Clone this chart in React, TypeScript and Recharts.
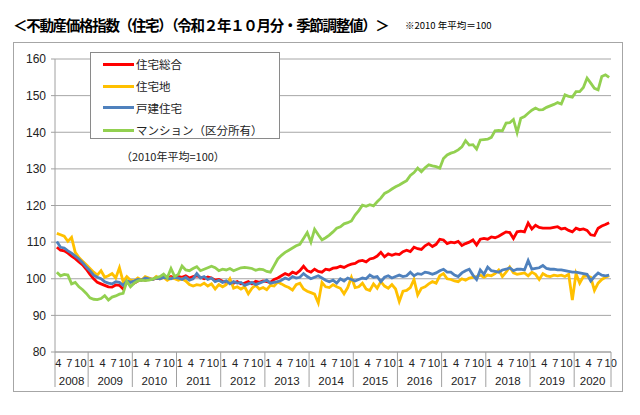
import React from 'react';
import { LineChart, Line, XAxis, YAxis, CartesianGrid, Legend } from 'recharts';

// Months: April 2008 .. October 2020
const years = [2008, 2009, 2010, 2011, 2012, 2013, 2014, 2015, 2016, 2017, 2018, 2019, 2020];
const firstMonth = 4;
const lastMonth = 10;
const monthTickLabels = [1, 4, 7, 10];

// 住宅総合
const sogo = [
  108.6, 107.8, 107.6, 107.0, 106.2, 105.5, 104.6, 103.8, 102.6,
  101.2, 100.0, 99.0, 98.6, 98.2, 97.8, 97.7, 98.3, 98.2, 97.2, 99.0, 99.4,
  98.8, 99.4, 99.8, 99.6, 100.0, 99.8, 100.2, 100.0, 100.4, 100.2, 100.6, 100.2,
  100.6, 100.4, 100.8, 100.2, 100.6, 100.8, 100.4, 100.0, 100.5, 100.2, 99.6, 99.8,
  99.3, 99.0, 99.4, 98.8, 99.2, 98.6, 98.8, 99.2, 98.6, 99.3, 99.0, 99.4,
  99.2, 99.0, 99.8, 100.2, 100.8, 101.4, 101.0, 101.8, 101.4, 102.2, 103.4, 102.2,
  101.8, 102.6, 102.0, 101.8, 102.6, 102.4, 102.9, 103.0, 103.4, 103.1, 103.6, 104.0,
  104.2, 104.8, 105.0, 104.6, 105.4, 105.6, 106.2, 107.2, 106.0, 106.8, 106.4, 106.8,
  106.6, 107.4, 107.8, 107.4, 108.6, 108.2, 108.0, 109.0, 109.6, 108.8, 109.4, 110.8,
  110.6, 109.6, 110.0, 109.8, 110.2, 109.1, 109.6, 110.0, 110.6, 109.2, 110.8, 111.0,
  110.8, 111.4, 111.2, 111.6, 112.2, 112.8, 112.6, 111.0, 112.8, 113.0, 112.8, 115.2,
  113.6, 114.6, 114.0, 113.8, 113.8, 113.8, 114.0, 114.2, 113.6, 113.8, 113.2, 112.8,
  113.8, 113.4, 113.6, 113.2, 112.0, 111.8, 113.8, 114.4, 114.8, 115.3,
];

// 住宅地
const takuchi = [
  112.4, 112.0, 111.6, 110.2, 111.3, 107.2, 105.8, 104.8, 103.8,
  102.8, 101.8, 101.0, 102.2, 100.4, 100.8, 101.4, 100.2, 103.0, 99.2, 100.6, 99.6,
  99.4, 100.2, 99.6, 100.6, 100.2, 99.8, 100.6, 100.0, 100.4, 99.6, 100.2, 100.0,
  99.6, 100.0, 99.4, 98.4, 98.0, 98.4, 98.2, 98.8, 98.0, 98.6, 97.2, 98.4,
  97.8, 98.4, 100.0, 97.4, 97.8, 97.2, 97.8, 95.9, 97.4, 98.2, 97.2, 97.6,
  97.0, 98.2, 98.0, 99.1, 98.6, 98.0, 97.6, 96.9, 98.4, 98.8, 97.2, 96.6,
  96.2, 95.8, 93.4, 99.0, 97.8, 97.6, 98.4, 97.8, 97.4, 95.9, 97.6, 100.4,
  97.6, 97.8, 98.8, 97.2, 96.8, 98.6, 97.4, 99.2, 98.0, 97.4, 98.4, 97.2,
  93.8, 96.6, 96.8, 97.6, 99.8, 95.6, 97.4, 97.8, 98.6, 99.2, 98.8, 100.8,
  101.4, 100.0, 99.8, 99.4, 99.2, 100.0, 99.6, 100.2, 100.4, 100.6, 101.0, 100.4,
  101.0, 100.8, 101.4, 102.4, 100.6, 101.8, 103.2, 101.6, 101.2, 101.4, 101.6, 100.8,
  101.8, 101.2, 99.8, 101.4, 100.8, 100.6, 101.0, 100.8, 101.0, 100.6, 101.2, 94.2,
  101.4, 98.8, 100.6, 100.8, 100.4, 96.8, 98.8, 99.8, 100.4, 100.8,
];

// 戸建住宅
const kodate = [
  110.2, 108.6, 108.4, 107.6, 107.0, 106.2, 105.4, 104.4, 103.2,
  102.2, 101.0, 100.4, 100.0, 99.2, 98.8, 98.6, 99.2, 99.0, 98.2, 99.4, 99.0,
  99.4, 99.8, 99.6, 100.2, 100.0, 99.8, 100.2, 100.0, 100.4, 100.2, 100.0, 100.4,
  100.2, 99.8, 100.4, 99.6, 100.0, 101.4, 100.2, 100.6, 99.8, 100.2, 99.2, 99.6,
  99.0, 99.4, 98.6, 99.2, 98.8, 99.0, 98.2, 98.6, 99.0, 98.4, 98.8, 99.2,
  99.6, 98.8, 99.0, 99.2, 99.6, 100.2, 99.8, 100.6, 100.2, 100.4, 101.4, 100.6,
  100.0, 100.4, 100.8, 100.2, 99.6, 99.2, 99.6, 98.8, 100.0, 99.4, 100.2, 99.8,
  99.4, 99.8, 100.2, 100.0, 101.0, 100.4, 100.6, 99.2, 100.4, 100.8, 100.2, 100.6,
  101.0, 100.6, 100.8, 101.8, 100.8, 101.4, 101.2, 101.8, 101.6, 101.2, 101.6, 102.2,
  102.6, 101.8, 101.8, 101.0, 100.6, 101.6, 102.2, 102.6, 101.0, 99.8, 102.4, 101.2,
  103.2, 102.2, 102.0, 101.8, 102.4, 102.6, 103.0, 102.2, 102.6, 102.6, 102.4, 105.0,
  102.6, 102.8, 103.0, 103.6, 102.8, 102.6, 102.6, 102.4, 102.4, 102.2, 102.0, 101.8,
  101.8, 101.6, 101.4, 101.2, 99.4, 100.6, 101.6, 101.0, 100.8, 101.0,
];

// マンション（区分所有）
const mansion = [
  101.8, 100.8, 101.2, 101.0, 98.6, 99.0, 97.8, 97.0, 96.0,
  94.8, 94.4, 94.3, 94.6, 95.4, 94.2, 95.0, 95.3, 95.8, 96.0, 99.3, 97.8,
  98.8, 99.4, 99.6, 99.5, 99.6, 99.9, 100.3, 100.6, 101.3, 100.3, 102.8, 100.6,
  101.2, 103.5, 102.4, 102.2, 102.8, 103.3, 102.2, 102.6, 103.0, 103.4, 103.0, 102.2,
  102.6, 102.4, 102.8, 102.2, 102.6, 103.0, 103.1, 103.0, 102.8, 102.3, 102.6, 102.5,
  102.0, 101.8, 103.6, 105.4, 106.4, 107.2, 107.8, 108.4, 109.0, 109.4, 111.0, 112.6,
  110.0, 113.5, 112.0, 110.6, 111.2, 111.9, 112.8, 113.8, 114.2, 115.0, 115.3, 115.8,
  117.4, 118.6, 120.1, 119.8, 120.2, 119.9, 121.0, 122.0, 123.3, 123.8, 124.5, 125.1,
  125.6, 126.2, 126.8, 128.2, 129.0, 130.2, 129.2, 130.3, 131.1, 130.8, 130.6, 130.2,
  132.8, 133.8, 134.3, 134.6, 135.2, 136.0, 137.7, 136.5, 136.6, 135.4, 137.9, 138.0,
  138.1, 138.6, 140.4, 140.5, 140.4, 142.5, 142.6, 143.5, 139.9, 143.8, 144.3, 145.2,
  146.0, 146.6, 146.1, 146.2, 146.8, 147.2, 147.6, 148.1, 147.7, 150.2, 149.8, 149.6,
  151.1, 151.1, 152.2, 154.8, 153.4, 152.0, 151.6, 155.2, 155.7, 155.0,
];

const yTicks = [80, 90, 100, 110, 120, 130, 140, 150, 160];

const seriesDefs = [
  { key: 'sogo', name: '住宅総合', color: '#FF0000' },
  { key: 'takuchi', name: '住宅地', color: '#FFC000' },
  { key: 'kodate', name: '戸建住宅', color: '#4F81BD' },
  { key: 'mansion', name: 'マンション（区分所有）', color: '#92D050' },
];

// categories (year, month) for each index
const categories: { year: number; month: number }[] = [];
years.forEach((y) => {
  const m0 = y === years[0] ? firstMonth : 1;
  const m1 = y === years[years.length - 1] ? lastMonth : 12;
  for (let m = m0; m <= m1; m++) categories.push({ year: y, month: m });
});

const data = categories.map((c, i) => ({
  i,
  sogo: sogo[i],
  takuchi: takuchi[i],
  kodate: kodate[i],
  mansion: mansion[i],
}));

// axis tick descriptors
type TickInfo = { kind: 'month' | 'year' | 'sep'; label?: string };
const tickInfo = new Map<number, TickInfo>();
categories.forEach((c, i) => {
  if (monthTickLabels.includes(c.month)) tickInfo.set(i, { kind: 'month', label: String(c.month) });
});
years.forEach((y) => {
  const idx = categories.map((c, i) => (c.year === y ? i : -1)).filter((i) => i >= 0);
  const start = idx[0] - 0.5;
  const end = idx[idx.length - 1] + 0.5;
  tickInfo.set(start, { kind: 'sep' });
  tickInfo.set((start + end) / 2 + 0.001, { kind: 'year', label: String(y) });
  if (y === years[years.length - 1]) tickInfo.set(end, { kind: 'sep' });
});
const xTicks = Array.from(tickInfo.keys()).sort((a, b) => a - b);
const lastIndex = categories.length - 1;

const AxisTick = (props: any) => {
  const { x, y, payload } = props;
  const info = tickInfo.get(payload.value);
  if (!info) return null;
  if (info.kind === 'sep') {
    return <line x1={x} x2={x} y1={y} y2={y + 35} stroke="#a0a0a0" strokeWidth={1} />;
  }
  if (info.kind === 'month') {
    return (
      <text x={x + 1.5} y={y + 15} textAnchor="middle" fontSize={11} fill="#222" fontFamily="'Liberation Sans', Arial, sans-serif">
        {info.label}
      </text>
    );
  }
  return (
    <text x={x} y={y + 33} textAnchor="middle" fontSize={11.5} fill="#222" fontFamily="'Liberation Sans', Arial, sans-serif">
      {info.label}
    </text>
  );
};

const LegendBox = () => (
  <div
    style={{
      position: 'relative',
      width: 190,
      height: 87,
      boxSizing: 'border-box',
      border: '1.5px solid #8a8a8a',
      background: '#fff',
      fontFamily: "'Noto Sans CJK JP', sans-serif",
      fontSize: 11.5,
      color: '#222',
    }}
  >
    {seriesDefs.map((s, k) => {
      const cy = [11, 33, 54.5, 77][k];
      return (
        <div key={s.key} style={{ position: 'absolute', left: 0, top: cy - 8, height: 16, width: '100%' }}>
          <div style={{ position: 'absolute', left: 12, top: 6.5, width: 31, height: 3.2, background: s.color }} />
          <div style={{ position: 'absolute', left: 45, top: 0, lineHeight: '16px', whiteSpace: 'nowrap' }}>{s.name}</div>
        </div>
      );
    })}
  </div>
);

export default function App() {
  return (
    <div style={{ position: 'absolute', left: 0, top: 0, width: 640, height: 415, background: '#fff', overflow: 'hidden' }}>
      <div
        style={{
          position: 'absolute',
          left: 13,
          top: 13,
          fontFamily: "'Noto Sans CJK JP', sans-serif",
          fontWeight: 700,
          fontSize: 14.5,
          letterSpacing: -1.3,
          lineHeight: '24px',
          color: '#000',
          whiteSpace: 'nowrap',
        }}
      >
        ＜不動産価格指数（住宅）（令和２年１０月分・季節調整値）＞
      </div>
      <div
        style={{
          position: 'absolute',
          left: 405,
          top: 17,
          fontFamily: "'Noto Sans CJK JP', sans-serif",
          fontSize: 9.5,
          lineHeight: '16px',
          color: '#000',
          whiteSpace: 'nowrap',
        }}
      >
        ※2010 年平均＝100
      </div>
      <div
        style={{
          position: 'absolute',
          left: 13,
          top: 42,
          width: 610,
          height: 350,
          boxSizing: 'border-box',
          border: '1.5px solid #a6a6a6',
        }}
      />
      <div style={{ position: 'absolute', left: 0, top: 0 }}>
        <LineChart width={640} height={415} data={data} margin={{ top: 59, right: 29, bottom: 23, left: 13 }}>
          <CartesianGrid vertical={false} stroke="#a6a6a6" strokeWidth={1} />
          <XAxis
            dataKey="i"
            type="number"
            domain={[-0.5, lastIndex + 0.5]}
            ticks={xTicks}
            interval={0}
            tick={<AxisTick />}
            tickLine={false}
            tickSize={0}
            tickMargin={0}
            height={40}
            axisLine={{ stroke: '#a0a0a0' }}
          />
          <YAxis
            domain={[80, 160]}
            ticks={yTicks}
            interval={0}
            width={42}
            tickSize={4}
            tickMargin={5}
            tickLine={{ stroke: '#a0a0a0' }}
            axisLine={{ stroke: '#a0a0a0' }}
            tick={{ fontSize: 12, fill: '#222', fontFamily: "'Liberation Sans', Arial, sans-serif" }}
          />
          {seriesDefs.map((s) => (
            <Line
              key={s.key}
              type="linear"
              dataKey={s.key}
              name={s.name}
              stroke={s.color}
              strokeWidth={2.8}
              dot={false}
              activeDot={false}
              isAnimationActive={false}
            />
          ))}
          <Legend
            layout="vertical"
            align="center"
            verticalAlign="middle"
            wrapperStyle={{ position: 'absolute', left: 90, top: 52, width: 190, height: 87 }}
            content={() => <LegendBox />}
          />
        </LineChart>
      </div>
      <div
        style={{
          position: 'absolute',
          left: 121,
          top: 148,
          fontFamily: "'Noto Sans CJK JP', sans-serif",
          fontSize: 11,
          lineHeight: '16px',
          color: '#222',
          whiteSpace: 'nowrap',
        }}
      >
        （2010年平均=100）
      </div>
    </div>
  );
}
